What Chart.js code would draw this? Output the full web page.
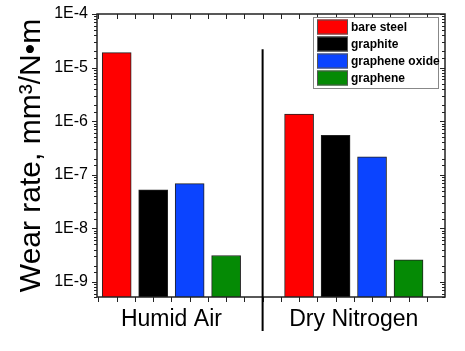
<!DOCTYPE html>
<html>
<head>
<meta charset="utf-8">
<script src="https://cdn.jsdelivr.net/npm/chart.js@4"></script>
<style>
  html, body { margin: 0; padding: 0; background: #fff; }
  #wrap { width: 465px; height: 351px; }
</style>
</head>
<body>
<div id="wrap"><canvas id="wearChart" width="465" height="351"></canvas></div>
<script>
// Wear rate data (mm^3/N·m)
const conditions = ["Humid Air", "Dry Nitrogen"];
const materials = ["bare steel", "graphite", "graphene oxide", "graphene"];
const bareSteel = [1.9e-5, 1.36e-6];
const graphite = [5.2e-8, 5.4e-7];
const grapheneOxide = [6.8e-8, 2.15e-7];
const graphene = [3.1e-9, 2.57e-9];
const colors = ["#ff0000", "#000000", "#0b44ff", "#058a05"];

const series = [bareSteel, graphite, grapheneOxide, graphene];

// each condition gets 4 bar slots, with one empty slot between groups
const slotOf = (g, i) => g * 5 + i + 1;

const datasets = series.map((vals, i) => ({
  label: materials[i],
  data: vals.map((v, g) => ({ x: slotOf(g, i), y: v })),
  backgroundColor: colors[i],
  borderColor: "#222",
  borderWidth: 1,
  barThickness: 29,
  grouped: false
}));

// frame, ticks, divider and legend drawn on top
const decor = {
  id: "decor",
  afterDraw(chart) {
    const ctx = chart.ctx;
    const a = chart.chartArea;
    const xs = chart.scales.x, ys = chart.scales.y;
    ctx.save();
    ctx.strokeStyle = "#222";
    ctx.lineWidth = 1.5;
    ctx.strokeRect(a.left, a.top, a.right - a.left, a.bottom - a.top);

    // y ticks
    ctx.lineWidth = 1;
    ys.ticks.forEach(t => {
      const e = Math.log10(t.value);
      const major = Math.abs(e - Math.round(e)) < 1e-6;
      const y = Math.round(ys.getPixelForValue(t.value)) + 0.5;
      const len = major ? 5 : 3;
      ctx.beginPath();
      ctx.moveTo(a.left - len, y); ctx.lineTo(a.left, y);
      ctx.moveTo(a.right - len, y); ctx.lineTo(a.right, y);
      ctx.stroke();
    });

    // x ticks (top inward, bottom outward)
    for (let v = 0.5; v < 10; v += 0.5) {
      const x = Math.round(xs.getPixelForValue(v)) + 0.5;
      ctx.beginPath();
      ctx.moveTo(x, a.top); ctx.lineTo(x, a.top + 5);
      ctx.moveTo(x, a.bottom); ctx.lineTo(x, a.bottom + 5);
      ctx.stroke();
    }

    // divider between conditions
    const dx = xs.getPixelForValue(5);
    ctx.lineWidth = 2;
    ctx.strokeStyle = "#000";
    ctx.beginPath();
    ctx.moveTo(dx, ys.getPixelForValue(2.2e-5));
    ctx.lineTo(dx, a.bottom + 34);
    ctx.stroke();

    // legend box
    const lx = 313, ly = 17, lw = 125, lh = 71;
    ctx.fillStyle = "#fff";
    ctx.fillRect(lx, ly, lw, lh);
    ctx.strokeStyle = "#888";
    ctx.lineWidth = 1;
    ctx.strokeRect(lx + 0.5, ly + 0.5, lw, lh);
    ctx.font = "bold 12px 'Liberation Sans', Arial, sans-serif";
    ctx.textBaseline = "middle";
    chart.data.datasets.forEach((ds, i) => {
      const cy = ly + 10 + i * 17;
      ctx.fillStyle = ds.backgroundColor;
      ctx.fillRect(lx + 4, cy - 7.5, 31, 15);
      ctx.strokeStyle = "#555";
      ctx.strokeRect(lx + 4.5, cy - 7, 30, 14);
      ctx.fillStyle = "#000";
      ctx.fillText(ds.label, lx + 38, cy + 1);
    });
    ctx.restore();
  }
};

const ctx = document.getElementById("wearChart").getContext("2d");
new Chart(ctx, {
  type: "bar",
  data: { datasets: datasets },
  options: {
    responsive: false,
    animation: false,
    layout: { padding: { top: 14, right: 20, left: 0, bottom: 0 } },
    plugins: {
      legend: { display: false },
      tooltip: { enabled: false }
    },
    scales: {
      x: {
        type: "linear",
        min: 0.46,
        max: 10,
        offset: false,
        grid: { display: false, drawTicks: false, offset: false },
        border: { display: false },
        afterBuildTicks: scale => {
          scale.ticks = [{ value: 2.5 }, { value: 7.5 }];
        },
        afterFit: scale => { scale.height = 54; },
        ticks: {
          padding: 9,
          color: "#000",
          font: { family: "'Liberation Sans', Arial, sans-serif", size: 23 },
          callback: v => (v < 5 ? conditions[0] : conditions[1])
        }
      },
      y: {
        type: "logarithmic",
        min: 5.2e-10,
        max: 1e-4,
        grid: { display: false, drawTicks: false },
        border: { display: false },
        afterFit: scale => {
          scale.width = 97;
          scale.paddingTop = 0;
          scale.paddingBottom = 0;
        },
        ticks: {
          autoSkip: false,
          padding: 9,
          color: "#000",
          font: { family: "'Liberation Sans', Arial, sans-serif", size: 16 },
          callback: v => {
            const e = Math.log10(v);
            return Math.abs(e - Math.round(e)) < 1e-6 ? "1E" + Math.round(e) : "";
          }
        },
        title: {
          display: true,
          text: "Wear rate, mm³/N•m",
          color: "#000",
          padding: { top: 14, bottom: 0 },
          font: { family: "'Liberation Sans', Arial, sans-serif", size: 30 }
        }
      }
    }
  },
  plugins: [decor]
});
</script>
</body>
</html>
